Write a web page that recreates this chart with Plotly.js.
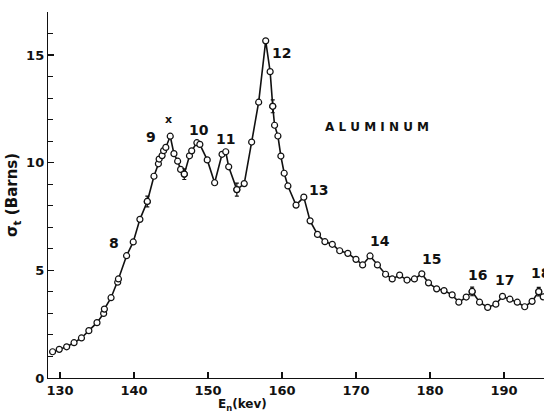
<!DOCTYPE html>
<html>
<head>
<meta charset="utf-8">
<script src="https://cdn.plot.ly/plotly-3.0.1.min.js"></script>
<style>html,body{margin:0;padding:0;background:#fff;}#chart{width:544px;height:412px;}</style>
</head>
<body>
<div id="chart"></div>
<script>
// Neutron energy (keV)
const energy = [129.0,129.9,130.9,131.9,132.9,133.9,135.0,135.9,136.0,136.9,137.8,137.9,139.0,139.9,140.8,141.8,142.7,143.3,143.4,143.8,144.0,144.3,144.9,145.4,145.9,146.3,146.8,147.5,147.8,148.5,148.9,149.9,150.9,151.9,152.4,152.8,153.9,154.9,155.9,156.85,157.8,158.4,158.75,159.0,159.45,159.85,160.3,160.8,161.9,162.95,163.8,164.8,165.8,166.8,167.8,168.9,170.0,170.9,171.9,172.9,174.0,174.9,175.9,176.9,177.9,178.9,179.8,180.9,181.9,183.0,183.9,184.9,185.7,186.7,187.8,188.9,189.8,190.8,191.8,192.8,193.8,194.7,195.3];
// Total cross section (barns)
const sigma = [1.22,1.33,1.45,1.64,1.86,2.2,2.57,3.0,3.2,3.73,4.45,4.6,5.68,6.32,7.37,8.2,9.37,9.95,10.17,10.33,10.56,10.71,11.23,10.42,10.07,9.69,9.47,10.32,10.55,10.93,10.85,10.13,9.07,10.39,10.51,9.81,8.75,9.03,10.96,12.81,15.66,14.23,12.62,11.74,11.24,10.31,9.51,8.92,8.03,8.4,7.3,6.67,6.33,6.21,5.91,5.79,5.51,5.25,5.67,5.25,4.82,4.6,4.78,4.55,4.6,4.84,4.42,4.14,4.06,3.86,3.52,3.76,4.02,3.52,3.28,3.43,3.79,3.66,3.52,3.31,3.56,4.01,3.77];
// Error bar half-widths (barns), 0 where none drawn
const sigmaErr = [0,0,0,0,0,0,0,0,0,0,0,0,0,0,0,0.25,0,0,0,0,0,0,0,0,0,0,0.25,0,0,0,0,0,0,0,0,0,0.3,0,0,0,0,0,0.3,0,0,0,0,0,0,0,0,0,0,0,0,0,0,0,0,0,0,0,0,0,0,0,0,0,0,0,0,0,0.2,0,0,0,0,0,0,0,0,0.2,0];
// Resonance labels
const peakLabels = ["8","9","x","10","11","12","13","14","15","16","17","18"];
const peakLabelX = [137.3,142.3,144.7,148.8,152.4,160.0,165.0,173.2,180.2,186.4,190.1,195.0];
const peakLabelY = [6.27,11.2,12.0,11.5,11.1,15.1,8.73,6.36,5.53,4.78,4.55,4.86];

const ink = '#111';
const fam = 'DejaVu Sans, Liberation Sans, sans-serif';
const fnt = {family: fam, size: 13, color: ink};

const errIdx = sigmaErr.map((e, i) => i).filter(i => sigmaErr[i] > 0);

const markerStyle = {symbol: 'circle', size: 6, color: '#fff', line: {width: 1.2, color: ink}};

const mainTrace = {
  x: energy, y: sigma, type: 'scatter', mode: 'lines+markers',
  line: {color: ink, width: 1.6},
  marker: markerStyle,
  cliponaxis: false
};
const errTrace = {
  x: errIdx.map(i => energy[i]), y: errIdx.map(i => sigma[i]),
  type: 'scatter', mode: 'markers',
  marker: markerStyle,
  error_y: {type: 'data', array: errIdx.map(i => sigmaErr[i]), visible: true, color: ink, thickness: 1.2, width: 2},
  cliponaxis: false
};

const annotations = peakLabels.map((t, i) => ({
  x: peakLabelX[i], y: peakLabelY[i], xref: 'x', yref: 'y', text: t,
  showarrow: false, font: Object.assign({}, fnt, {size: t === 'x' ? 11 : 14, weight: 'bold'})
}));
annotations.push({
  x: 172.8, y: 11.65, xref: 'x', yref: 'y', text: 'A L U M I N U M',
  showarrow: false, font: Object.assign({}, fnt, {size: 12, weight: 'bold'})
});
annotations.push({
  x: 0.393, y: -0.049, xref: 'paper', yref: 'paper', yanchor: 'top', borderpad: 0, text: 'E<sub>n</sub>(kev)',
  showarrow: false, font: Object.assign({}, fnt, {size: 12, weight: 'bold'})
});

const layout = {
  width: 544, height: 412,
  margin: {l: 48, r: 0, t: 12, b: 34},
  paper_bgcolor: '#fff', plot_bgcolor: '#fff',
  showlegend: false,
  font: fnt,
  xaxis: {
    range: [128.38, 195.41], dtick: 10, tick0: 130,
    ticks: 'inside', ticklen: 6, tickwidth: 1.2, tickcolor: ink,
    showline: true, linecolor: ink, linewidth: 1.2,
    showgrid: false, zeroline: false,
    tickfont: Object.assign({}, fnt, {size: 13, weight: 'bold'})
  },
  yaxis: {
    range: [0, 17], dtick: 5, tick0: 0,
    ticks: 'inside', ticklen: 6, tickwidth: 1.2, tickcolor: ink,
    minor: {dtick: 1, ticks: 'inside', ticklen: 5, tickcolor: ink, tickwidth: 1},
    showline: true, linecolor: ink, linewidth: 1.2,
    showgrid: false, zeroline: false,
    tickfont: Object.assign({}, fnt, {size: 13, weight: 'bold'}),
    title: {text: 'σ<sub>t</sub> (Barns)', font: Object.assign({}, fnt, {size: 15, weight: 'bold'}), standoff: 4}
  },
  annotations: annotations
};

Plotly.newPlot('chart', [mainTrace, errTrace], layout, {displayModeBar: false, staticPlot: true});
</script>
</body>
</html>
